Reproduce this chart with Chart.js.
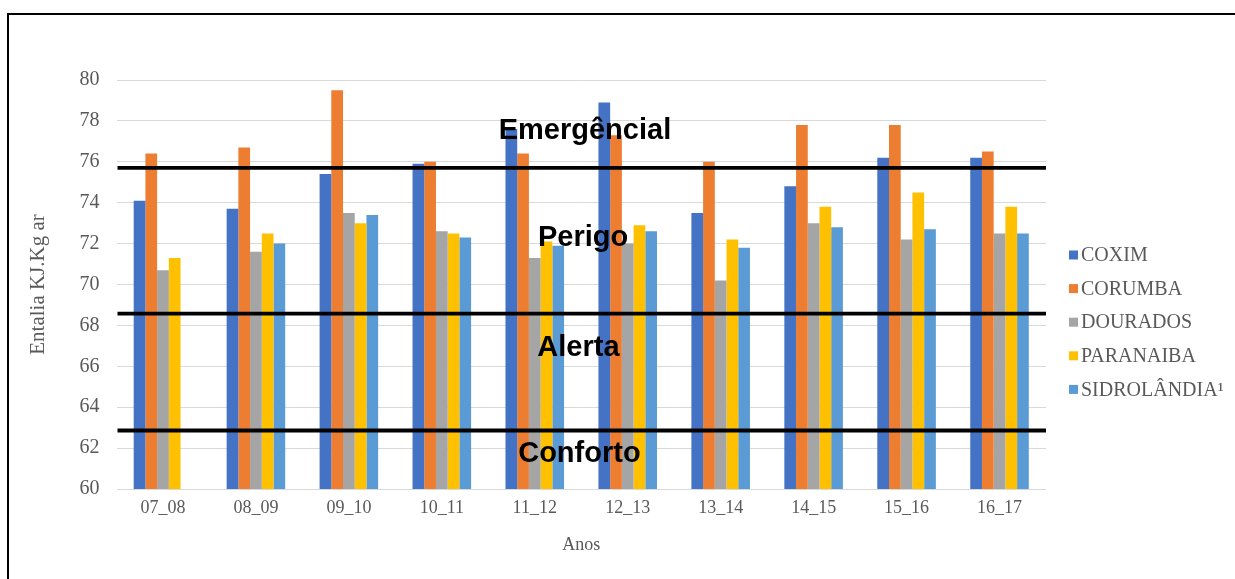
<!DOCTYPE html>
<html lang="pt">
<head>
<meta charset="utf-8">
<title>Entalpia por estação</title>
<script src="https://cdn.jsdelivr.net/npm/chart.js@4/dist/chart.umd.min.js"></script>
<style>
  html, body { margin: 0; padding: 0; background: #fff; }
  #wrap { position: relative; width: 1235px; height: 579px; }
  canvas { display: block; }
</style>
</head>
<body>
<div id="wrap"><canvas id="c" width="1235" height="579"></canvas></div>
<script>
// Períodos (anos) no eixo horizontal
const categories = ['07_08', '08_09', '09_10', '10_11', '11_12', '12_13', '13_14', '14_15', '15_16', '16_17'];

// Entalpia média por estação (KJ/Kg ar)
const coxim       = [74.1, 73.7, 75.4, 75.9, 77.6, 78.9, 73.5, 74.8, 76.2, 76.2];
const corumba     = [76.4, 76.7, 79.5, 76.0, 76.4, 77.3, 76.0, 77.8, 77.8, 76.5];
const dourados    = [70.7, 71.6, 73.5, 72.6, 71.3, 72.0, 70.2, 73.0, 72.2, 72.5];
const paranaiba   = [71.3, 72.5, 73.0, 72.5, 72.1, 72.9, 72.2, 73.8, 74.5, 73.8];
const sidrolandia = [null, 72.0, 73.4, 72.3, 71.9, 72.6, 71.8, 72.8, 72.7, 72.5];

const seriesNames  = ['COXIM', 'CORUMBA', 'DOURADOS', 'PARANAIBA', 'SIDROLÂNDIA¹'];
const seriesColors = ['#4472C4', '#ED7D31', '#A5A5A5', '#FFC000', '#5B9BD5'];

// Eixo vertical
const yMin = 60, yMax = 80, yStep = 2;

// Limites entre as faixas de conforto térmico
const thresholds = [75.7, 68.58, 62.86];

// Nome de cada faixa e sua posição (índice de categoria, valor)
const zoneNames = ['Emergêncial', 'Perigo', 'Alerta', 'Conforto'];
const zoneX     = [4.54, 4.52, 4.47, 4.48];
const zoneY     = [77.55, 72.3, 66.94, 61.76];

const seriesData = [coxim, corumba, dourados, paranaiba, sidrolandia];

const SERIF = '"Liberation Serif", "Times New Roman", serif';
const SANS  = '"Liberation Sans", Arial, sans-serif';
const GREY_TEXT = '#595959';

// Moldura, linhas de limite, nomes das faixas e legenda
const decorations = {
  id: 'decorations',
  beforeDraw(chart) {
    const ctx = chart.ctx;
    ctx.save();
    ctx.fillStyle = '#fff';
    ctx.fillRect(0, 0, chart.width, chart.height);
    ctx.strokeStyle = '#000';
    ctx.lineWidth = 2;
    ctx.beginPath();
    ctx.moveTo(8, chart.height);
    ctx.lineTo(8, 14);
    ctx.lineTo(chart.width, 14);
    ctx.stroke();
    ctx.restore();
  },
  afterDatasetsDraw(chart) {
    const ctx = chart.ctx;
    const area = chart.chartArea;
    const y = chart.scales.y;
    const x = chart.scales.x;
    ctx.save();
    ctx.strokeStyle = '#000';
    ctx.lineWidth = 3.8;
    thresholds.forEach(v => {
      const py = y.getPixelForValue(v);
      ctx.beginPath();
      ctx.moveTo(area.left + 1, py);
      ctx.lineTo(area.right, py);
      ctx.stroke();
    });

    ctx.fillStyle = '#000';
    ctx.font = 'bold 29px ' + SANS;
    ctx.textAlign = 'center';
    ctx.textBaseline = 'middle';
    zoneNames.forEach((name, i) => {
      ctx.fillText(name, x.getPixelForValue(zoneX[i]), y.getPixelForValue(zoneY[i]) + 1);
    });

    // Legenda à direita
    const lx = 1069, ly0 = 255, step = 33.6, box = 9;
    ctx.font = '20px ' + SERIF;
    ctx.textAlign = 'left';
    ctx.textBaseline = 'middle';
    seriesNames.forEach((name, i) => {
      const cy = ly0 + i * step;
      ctx.fillStyle = seriesColors[i];
      ctx.fillRect(lx, cy - box / 2, box, box);
      ctx.fillStyle = GREY_TEXT;
      ctx.fillText(name, lx + box + 3, cy + 1);
    });
    ctx.restore();
  }
};

new Chart(document.getElementById('c'), {
  type: 'bar',
  data: {
    labels: categories,
    datasets: seriesData.map((d, i) => ({
      label: seriesNames[i],
      data: d,
      backgroundColor: seriesColors[i],
      borderWidth: 0,
      barPercentage: 1.0,
      categoryPercentage: 0.63
    }))
  },
  options: {
    responsive: false,
    animation: false,
    devicePixelRatio: 1,
    layout: { padding: { left: 8, top: 80, right: 189, bottom: 15 } },
    plugins: {
      legend: { display: false },
      tooltip: { enabled: false }
    },
    scales: {
      x: {
        grid: { display: false, drawTicks: false },
        border: { display: false },
        ticks: {
          color: GREY_TEXT,
          font: { family: SERIF, size: 18 },
          padding: 8,
          maxRotation: 0
        },
        title: {
          display: true,
          text: 'Anos',
          color: GREY_TEXT,
          font: { family: SERIF, size: 18 },
          padding: { top: 0, bottom: 8 }
        },
        afterFit(scale) { scale.height = 75; }
      },
      y: {
        min: yMin,
        max: yMax,
        grid: { color: '#d9d9d9', lineWidth: 1, drawTicks: false },
        border: { display: false },
        ticks: {
          stepSize: yStep,
          color: GREY_TEXT,
          font: { family: SERIF, size: 20 },
          padding: 17
        },
        title: {
          display: true,
          text: 'Entalia KJ.Kg ar',
          color: GREY_TEXT,
          font: { family: SERIF, size: 21 },
          padding: { top: 18, bottom: 0 }
        },
        afterFit(scale) { scale.width = 108.5; }
      }
    }
  },
  plugins: [decorations]
});
</script>
</body>
</html>
